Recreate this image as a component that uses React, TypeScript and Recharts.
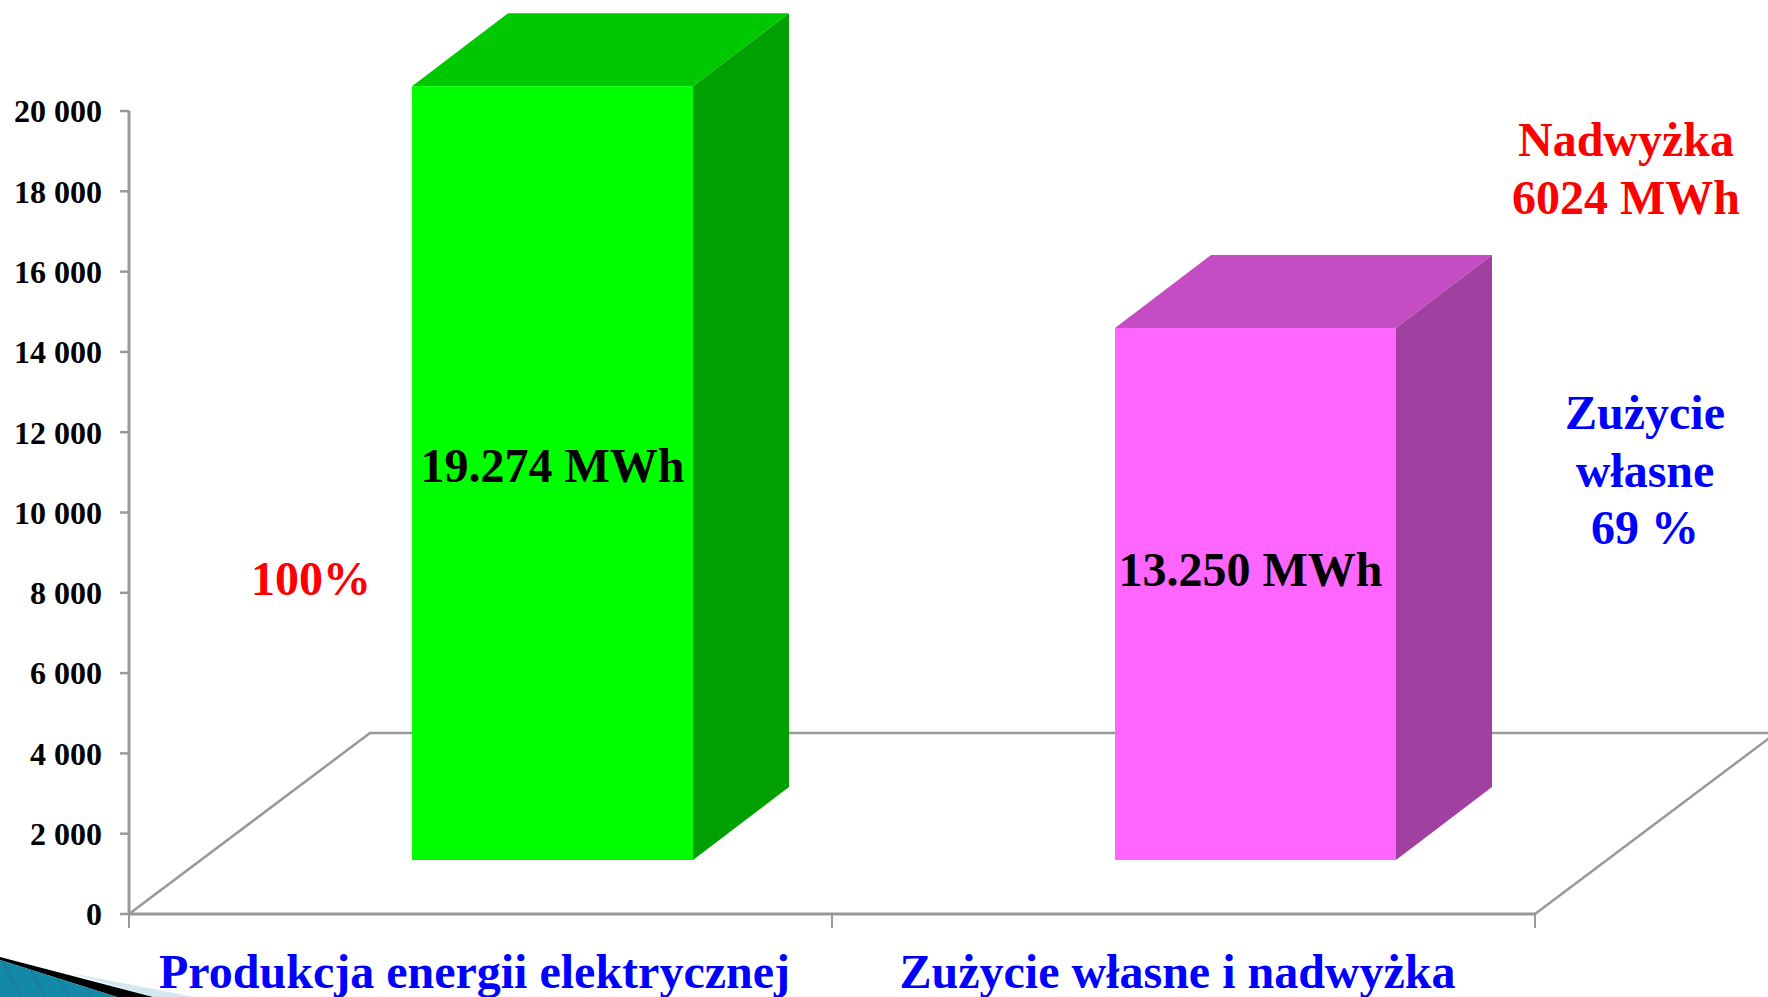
import { BarChart, Bar, XAxis, YAxis } from "recharts";

const categories = ["Produkcja energii elektrycznej", "Zużycie własne i nadwyżka"];
const energyValues = [19274, 13250];
const valueLabels = ["19.274 MWh", "13.250 MWh"];
const yTicks = [0, 2000, 4000, 6000, 8000, 10000, 12000, 14000, 16000, 18000, 20000];

const chartData = categories.map((name, i) => ({ name, value: energyValues[i] }));

const WIDTH = 1768;
const HEIGHT = 997;
const SERIF = '"Liberation Serif", "Times New Roman", serif';
const axisColor = "#999999";

const plot = { left: 129, top: 111, right: 1535, bottom: 914 };
const bandWidth = (plot.right - plot.left) / categories.length;

// pseudo-3D offsets: floor depth, where the bar front sits, and the bar's own depth
const floor = { dx: 241, dy: 181 };
const front = { dx: 72, dy: 54 };
const depth = { dx: 96, dy: 73 };

const faceColors = [
  { front: "#00ff00", top: "#00c800", side: "#00a000" },
  { front: "#ff66ff", top: "#c44dc4", side: "#a040a0" },
];
// the labels sit by hand in the original slide, not centred on the bars
const labelPos = [
  { dx: 0, y: 482 },
  { dx: -5, y: 586 },
];

function Box3D(props: any) {
  const { x, y, width, height, index } = props;
  const c = faceColors[index];
  const l = x + front.dx;
  const r = l + width;
  const t = y - front.dy;
  const b = t + height;
  return (
    <g>
      <polygon points={`${l},${t} ${l + depth.dx},${t - depth.dy} ${r + depth.dx},${t - depth.dy} ${r},${t}`} fill={c.top} />
      <polygon points={`${r},${t} ${r + depth.dx},${t - depth.dy} ${r + depth.dx},${b - depth.dy} ${r},${b}`} fill={c.side} />
      <rect x={l} y={t} width={width} height={height} fill={c.front} />
      <text
        x={l + width / 2 + labelPos[index].dx}
        y={labelPos[index].y}
        textAnchor="middle"
        fontFamily={SERIF}
        fontWeight="bold"
        fontSize={48}
        fill="#000"
      >
        {valueLabels[index]}
      </text>
    </g>
  );
}

function CategoryTick(props: any) {
  const { x, payload } = props;
  return (
    <g>
      <line x1={x - bandWidth / 2} x2={x - bandWidth / 2} y1={plot.bottom} y2={plot.bottom + 14} stroke={axisColor} strokeWidth={2} />
      <line x1={x + bandWidth / 2} x2={x + bandWidth / 2} y1={plot.bottom} y2={plot.bottom + 14} stroke={axisColor} strokeWidth={2} />
      <text x={x - 6} y={988} textAnchor="middle" fontFamily={SERIF} fontWeight="bold" fontSize={48} fill="#0000ff">
        {payload.value}
      </text>
    </g>
  );
}

function Note({ x, y, lines, fill }: any) {
  return (
    <text textAnchor="middle" fontFamily={SERIF} fontWeight="bold" fontSize={48} fill={fill}>
      {lines.map((line: string, i: number) => (
        <tspan key={line} x={x} y={y + i * 57.5}>
          {line}
        </tspan>
      ))}
    </text>
  );
}

export default function App() {
  return (
    <div style={{ position: "absolute", left: 0, top: 0, width: WIDTH, height: HEIGHT, background: "#fff", overflow: "hidden" }}>
      <BarChart
        width={WIDTH}
        height={HEIGHT}
        data={chartData}
        margin={{ top: plot.top, right: WIDTH - plot.right, bottom: 0, left: 0 }}
      >
        <defs>
          <pattern id="swooshStripes" width={20} height={20} patternUnits="userSpaceOnUse" patternTransform="rotate(-30)">
            <rect width={20} height={20} fill="#1488a8" />
            <rect width={2} height={20} fill="#1a7c9a" />
          </pattern>
        </defs>

        {/* floor of the 3D chart */}
        <polyline
          points={`${plot.left},${plot.bottom} ${plot.left + floor.dx},${plot.bottom - floor.dy} ${WIDTH},${plot.bottom - floor.dy}`}
          fill="none"
          stroke={axisColor}
          strokeWidth={2.5}
        />
        <line
          x1={plot.right}
          y1={plot.bottom}
          x2={plot.right + floor.dx}
          y2={plot.bottom - floor.dy}
          stroke={axisColor}
          strokeWidth={2.5}
        />
        <XAxis
          dataKey="name"
          interval={0}
          height={HEIGHT - plot.bottom}
          tickLine={false}
          axisLine={{ stroke: axisColor, strokeWidth: 3 }}
          tick={<CategoryTick />}
        />
        <YAxis
          width={plot.left}
          domain={[0, 20000]}
          ticks={yTicks}
          interval={0}
          tickSize={9}
          tickMargin={18}
          tickFormatter={(v: number) => (v >= 1000 ? `${v / 1000} 000` : "0")}
          tick={{ fill: "#000", fontSize: 32, fontWeight: "bold", fontFamily: SERIF }}
          tickLine={{ stroke: axisColor, strokeWidth: 2.5 }}
          axisLine={{ stroke: axisColor, strokeWidth: 3 }}
        />
        <Bar dataKey="value" barSize={281} isAnimationActive={false} shape={<Box3D />} />

        {/* slide decoration, bottom left corner */}
        <polygon points="70,973 195,997 153,997" fill="#d3e8f0" />
        <polygon points="0,957 153,997 117,997 0,960" fill="#000" />
        <polygon points="0,960 117,997 0,997" fill="url(#swooshStripes)" />

        <Note x={311} y={595} lines={["100%"]} fill="#ff0000" />
        <Note x={1626} y={156} lines={["Nadwyżka", "6024 MWh"]} fill="#ff0000" />
        <Note x={1645} y={429} lines={["Zużycie", "własne", "69 %"]} fill="#0000ff" />
      </BarChart>
    </div>
  );
}
